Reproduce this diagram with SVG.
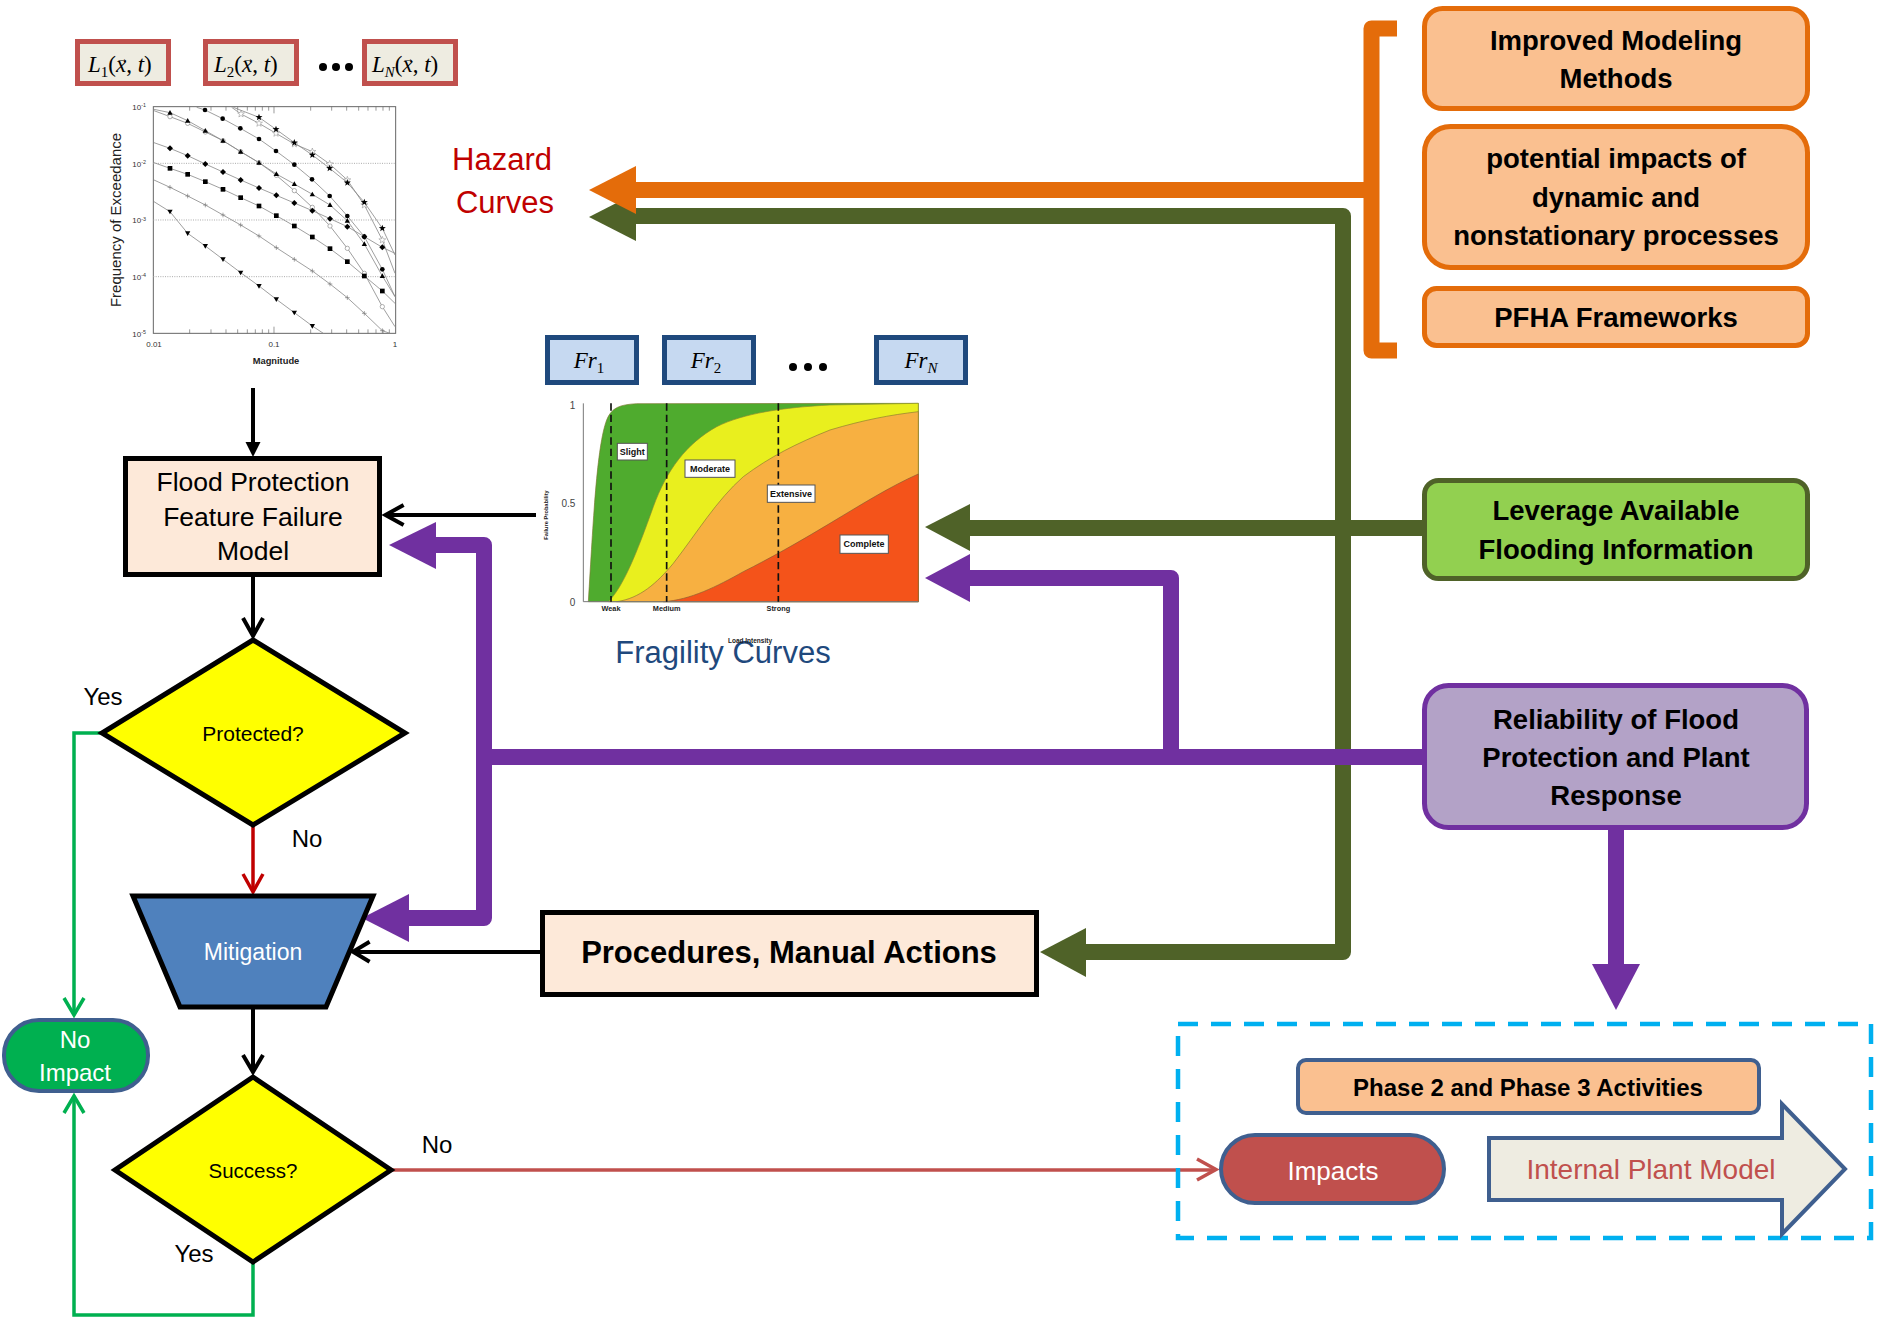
<svg xmlns="http://www.w3.org/2000/svg" width="1882" height="1326" viewBox="0 0 1882 1326">
<defs>
<style>
.t{font-family:"Liberation Sans",Arial,sans-serif;}
.b{font-weight:bold;}
.m{font-family:"Liberation Serif","DejaVu Serif",serif;font-style:italic;}
.n{font-style:normal;}
.vec{font-style:normal;font-size:13px;}
.lbox{fill:#EEECE1;stroke:#C0504D;stroke-width:5;}
.frbox{fill:#C6D9F1;stroke:#1F497D;stroke-width:5;}
.peach{fill:#FDE9D9;stroke:#000;stroke-width:5;}
.dia{fill:#FFFF00;stroke:#000;stroke-width:5;stroke-linejoin:miter;}
.obox{fill:#FAC090;stroke:#E46C0A;stroke-width:5;}
.ser{fill:none;stroke:#8c8c8c;stroke-width:2.5;}
.thin{fill:none;stroke:#000;stroke-width:4;}
.og{fill:none;stroke:#E46C0A;stroke-width:16;stroke-linejoin:round;}
.gr{fill:none;stroke:#4F6228;stroke-width:16;stroke-linejoin:round;}
.pu{fill:none;stroke:#7030A0;stroke-width:16;stroke-linejoin:round;}
.ctr{text-anchor:middle;}
.flab{fill:#fff;stroke:#555;stroke-width:3;}
</style>
<marker id="mStar" markerUnits="userSpaceOnUse" markerWidth="24" markerHeight="24" refX="12" refY="12" viewBox="0 0 24 24"><polygon points="12,1 14.65,8.36 22.46,8.6 16.28,13.39 18.47,20.9 12,16.5 5.53,20.9 7.72,13.39 1.54,8.6 9.35,8.36" fill="#000"/></marker>
<marker id="mStarO" markerUnits="userSpaceOnUse" markerWidth="24" markerHeight="24" refX="12" refY="12" viewBox="0 0 24 24"><polygon points="12,1 14.65,8.36 22.46,8.6 16.28,13.39 18.47,20.9 12,16.5 5.53,20.9 7.72,13.39 1.54,8.6 9.35,8.36" fill="#fff" stroke="#888" stroke-width="1.5"/></marker>
<marker id="mCirc" markerUnits="userSpaceOnUse" markerWidth="24" markerHeight="24" refX="12" refY="12" viewBox="0 0 24 24"><circle cx="12" cy="12" r="7" fill="#000"/></marker>
<marker id="mCircO" markerUnits="userSpaceOnUse" markerWidth="24" markerHeight="24" refX="12" refY="12" viewBox="0 0 24 24"><circle cx="12" cy="12" r="6.5" fill="#fff" stroke="#888" stroke-width="2"/></marker>
<marker id="mTri" markerUnits="userSpaceOnUse" markerWidth="24" markerHeight="24" refX="12" refY="12" viewBox="0 0 24 24"><polygon points="12,4 20,18 4,18" fill="#000"/></marker>
<marker id="mDia" markerUnits="userSpaceOnUse" markerWidth="24" markerHeight="24" refX="12" refY="12" viewBox="0 0 24 24"><polygon points="12,3 21,12 12,21 3,12" fill="#000"/></marker>
<marker id="mSq" markerUnits="userSpaceOnUse" markerWidth="24" markerHeight="24" refX="12" refY="12" viewBox="0 0 24 24"><rect x="5" y="5" width="14" height="14" fill="#000"/></marker>
<marker id="mPlus" markerUnits="userSpaceOnUse" markerWidth="24" markerHeight="24" refX="12" refY="12" viewBox="0 0 24 24"><path d="M12,5V19M5,12H19" stroke="#777" stroke-width="2"/></marker>
<marker id="mTriD" markerUnits="userSpaceOnUse" markerWidth="24" markerHeight="24" refX="12" refY="12" viewBox="0 0 24 24"><polygon points="4,6 20,6 12,20" fill="#000"/></marker>
</defs>
<rect width="1882" height="1326" fill="#fff"/>

<!-- Load function boxes -->
<g id="load-boxes">
<rect class="lbox" x="77.5" y="41.5" width="91" height="42"/>
<text class="m" x="88" y="72" font-size="23">L<tspan class="n" font-size="15" dy="5">1</tspan><tspan class="n" dy="-5">(</tspan>x<tspan class="n">, </tspan>t<tspan class="n">)</tspan><tspan class="vec" x="115.5" y="63">→</tspan></text>
<rect class="lbox" x="205.5" y="41.5" width="91" height="42"/>
<text class="m" x="214" y="72" font-size="23">L<tspan class="n" font-size="15" dy="5">2</tspan><tspan class="n" dy="-5">(</tspan>x<tspan class="n">, </tspan>t<tspan class="n">)</tspan><tspan class="vec" x="241.5" y="63">→</tspan></text>
<circle cx="323" cy="67" r="4"/><circle cx="336" cy="67" r="4"/><circle cx="349" cy="67" r="4"/>
<rect class="lbox" x="364.5" y="41.5" width="91" height="42"/>
<text class="m" x="372" y="72" font-size="23">L<tspan font-size="15" dy="5">N</tspan><tspan class="n" dy="-5">(</tspan>x<tspan class="n">, </tspan>t<tspan class="n">)</tspan><tspan class="vec" x="401.5" y="63">→</tspan></text>
</g>

<!-- Hazard chart -->
<g id="hazard-chart" transform="translate(60,20) scale(0.33333)">
<rect x="280" y="260" width="727" height="680" fill="#fff" stroke="#666" stroke-width="3"/>
<path d="M280,430H1007M280,600H1007M280,770H1007" stroke="#aaa" stroke-width="3" stroke-dasharray="3,4"/>
<path d="M389,940v-12M453,940v-12M498,940v-12M533,940v-12M562,940v-12M586,940v-12M607,940v-12M626,940v-12M642,940v-20M752,940v-12M815,940v-12M860,940v-12M896,940v-12M924,940v-12M948,940v-12M969,940v-12M988,940v-12M389,260v12M453,260v12M498,260v12M533,260v12M562,260v12M586,260v12M607,260v12M626,260v12M642,260v20M752,260v12M815,260v12M860,260v12M896,260v12M924,260v12M948,260v12M969,260v12M988,260v12" stroke="#666" stroke-width="2"/>
<polyline class="ser" marker-mid="url(#mStarO)" points="515,262 543,282 597,310 648,340 703,372 757,395 809,432 862,480 913,555 967,660 1005,760"/>
<polyline class="ser" marker-mid="url(#mStar)" points="520,262 597,292 648,328 703,368 757,405 809,445 862,488 913,547 967,625 1005,705"/>
<polyline class="ser" marker-mid="url(#mCirc)" points="410,262 435,270 488,296 541,325 597,357 648,393 703,434 756,478 809,528 862,588 913,650 967,748 1005,830"/>
<polyline class="ser" marker-mid="url(#mCircO)" points="282,272 330,290 383,310 436,336 489,362 542,395 597,428 649,466 703,512 757,562 810,618 862,685 913,760 967,860 1005,920"/>
<polyline class="ser" marker-mid="url(#mTri)" points="282,268 330,278 383,302 436,332 489,362 542,395 597,428 649,462 703,492 757,523 810,555 862,602 913,672 967,768 1005,830"/>
<polyline class="ser" marker-mid="url(#mDia)" points="282,368 330,385 383,407 436,432 489,456 542,480 597,504 649,526 703,549 757,572 810,596 862,620 913,650 967,682 1005,700"/>
<polyline class="ser" marker-mid="url(#mSq)" points="282,428 330,445 383,463 436,485 489,508 542,533 597,558 649,587 703,618 757,651 810,686 862,725 913,768 967,813 1005,850"/>
<polyline class="ser" marker-mid="url(#mPlus)" points="282,480 330,502 383,528 436,555 489,585 542,615 597,648 649,683 703,718 757,753 810,792 862,833 913,880 967,932 990,940"/>
<polyline class="ser" marker-mid="url(#mTriD)" points="282,545 330,575 383,640 436,678 489,718 542,758 597,798 649,838 703,878 757,918 790,940"/>
<g class="t" font-size="24" fill="#333" text-anchor="end">
<text x="258" y="270">10<tspan font-size="16" dy="-8">-1</tspan></text>
<text x="258" y="440">10<tspan font-size="16" dy="-8">-2</tspan></text>
<text x="258" y="610">10<tspan font-size="16" dy="-8">-3</tspan></text>
<text x="258" y="780">10<tspan font-size="16" dy="-8">-4</tspan></text>
<text x="258" y="950">10<tspan font-size="16" dy="-8">-5</tspan></text>
</g>
<g class="t ctr" font-size="24" fill="#333">
<text x="282" y="980">0.01</text>
<text x="642" y="980">0.1</text>
<text x="1005" y="980">1</text>
</g>
<text class="t b ctr" x="648" y="1033" font-size="28" fill="#222">Magnitude</text>
<text class="t ctr" transform="translate(183,600) rotate(-90)" font-size="45" fill="#222">Frequency of Exceedance</text>
</g>

<!-- Hazard Curves label -->
<g id="hazard-label" class="t ctr" fill="#C00000" font-size="31">
<text x="502" y="170">Hazard</text>
<text x="505" y="213">Curves</text>
</g>

<!-- Fragility boxes -->
<g id="fragility-boxes">
<rect class="frbox" x="547.5" y="337.5" width="89" height="45"/>
<text class="m" x="589" y="368" font-size="23" text-anchor="middle">Fr<tspan class="n" font-size="15" dy="5">1</tspan></text>
<rect class="frbox" x="664.5" y="337.5" width="89" height="45"/>
<text class="m" x="706" y="368" font-size="23" text-anchor="middle">Fr<tspan class="n" font-size="15" dy="5">2</tspan></text>
<circle cx="793" cy="367" r="4"/><circle cx="808" cy="367" r="4"/><circle cx="823" cy="367" r="4"/>
<rect class="frbox" x="876.5" y="337.5" width="89" height="45"/>
<text class="m" x="921" y="368" font-size="23" text-anchor="middle">Fr<tspan font-size="15" dy="5">N</tspan></text>
</g>

<!-- Fragility chart -->
<g id="fragility-chart" transform="translate(530,320) scale(0.33333)">
<rect x="160" y="250" width="1005" height="595" fill="#fff"/>
<path d="M175,845 C190,600 200,380 230,300 C245,262 270,254 320,251 L1165,250 L1165,845 Z" fill="#4FAB2E" stroke="#7a7a30" stroke-width="2"/>
<path d="M235,845 C280,800 320,700 370,560 C410,450 470,370 560,320 C640,280 760,262 900,255 L1165,250 L1165,845 Z" fill="#E9EF1E" stroke="#8a8a30" stroke-width="2"/>
<path d="M260,845 C330,835 380,790 430,730 C500,640 560,540 640,470 C720,410 800,370 900,330 C1000,300 1080,285 1165,275 L1165,845 Z" fill="#F7B041" stroke="#8a7a30" stroke-width="2"/>
<path d="M400,845 C480,840 560,800 640,755 C720,715 800,670 900,610 C1000,550 1080,500 1165,462 L1165,845 Z" fill="#F4531A" stroke="#8a5a30" stroke-width="2"/>
<path d="M160,250V845H1165" fill="none" stroke="#777" stroke-width="3"/>
<path d="M243,250V845M410,250V845M745,250V845" stroke="#111" stroke-width="5" stroke-dasharray="22,12"/>
<g class="t" font-size="30" fill="#444" text-anchor="end">
<text x="136" y="268">1</text>
<text x="136" y="562">0.5</text>
<text x="136" y="858">0</text>
</g>
<text class="t b ctr" transform="translate(55,585) rotate(-90)" font-size="17" fill="#222">Failure Probability</text>
<g class="t b ctr" font-size="22" fill="#222">
<text x="243" y="872">Weak</text>
<text x="410" y="872">Medium</text>
<text x="745" y="872">Strong</text>
</g>
<rect class="flab" x="262" y="370" width="90" height="50"/>
<rect class="flab" x="465" y="420" width="150" height="52"/>
<rect class="flab" x="712" y="495" width="143" height="52"/>
<rect class="flab" x="930" y="645" width="145" height="55"/>
<g class="t b ctr" font-size="27" fill="#111">
<text x="307" y="405">Slight</text>
<text x="540" y="456">Moderate</text>
<text x="783" y="531">Extensive</text>
<text x="1002" y="682">Complete</text>
</g>
</g>
<g id="fragility-label">
<text class="t ctr" x="723" y="663" font-size="31" fill="#1F497D">Fragility Curves</text>
<text class="t b ctr" x="750" y="643" font-size="6.5" fill="#222">Load Intensity</text>
</g>

<!-- Connectors -->
<g id="connectors">
<path class="gr" d="M636,216 H1343 V952 H1086"/>
<polygon points="589,217 636,193 636,241" fill="#4F6228"/>
<polygon points="1040,952 1086,928 1086,977" fill="#4F6228"/>
<path class="gr" d="M1422,528 H970"/>
<polygon points="925,527 970,504 970,551" fill="#4F6228"/>
<path class="og" d="M1397,28.5 H1371.5 V350.5 H1397" stroke-width="15"/>
<path class="og" d="M1371,190 H636"/>
<polygon points="589,190 636,166 636,214" fill="#E46C0A"/>
<path class="pu" d="M1422,757 H484"/>
<path class="pu" d="M436,545 H484 V918 H409"/>
<polygon points="389,545 436,522 436,569" fill="#7030A0"/>
<polygon points="362,918 409,894 409,942" fill="#7030A0"/>
<path class="pu" d="M1171,757 V578 H970"/>
<polygon points="925,578 970,554 970,602" fill="#7030A0"/>
<path class="pu" d="M1616,830 V965" stroke-width="14"/>
<polygon points="1592,964 1640,964 1616,1010" fill="#7030A0"/>
<path class="thin" d="M253,388 V445"/>
<polygon points="245.5,442 260.5,442 253,457"/>
<path class="thin" d="M536,515 H386"/>
<polyline class="thin" points="403.6,505 385.5,515 403.6,525"/>
<path class="thin" d="M253,576 V636"/>
<polyline class="thin" points="243,618 253,636 263,618"/>
<path d="M253,825 V892" stroke="#C00000" stroke-width="3.5" fill="none"/>
<polyline points="243,874 253,892 263,874" fill="none" stroke="#C00000" stroke-width="3.5"/>
<path class="thin" d="M540,952 H354" stroke-width="3.5"/>
<polyline class="thin" points="369.6,941.7 353,951.7 369.6,961.7" stroke-width="3.5"/>
<path class="thin" d="M253,1007 V1072"/>
<polyline class="thin" points="243,1055 253,1072 263,1055"/>
<polyline points="102,733 74,733 74,1015" fill="none" stroke="#00B050" stroke-width="3.5"/>
<polyline points="64,998 74,1015 84,998" fill="none" stroke="#00B050" stroke-width="3.5"/>
<polyline points="253,1262 253,1315 74,1315 74,1096" fill="none" stroke="#00B050" stroke-width="3.5"/>
<polyline points="64,1113 74,1096 84,1113" fill="none" stroke="#00B050" stroke-width="3.5"/>
<path d="M391,1170 H1215" stroke="#C0504D" stroke-width="3.5"/>
<polyline points="1197,1159 1216,1169.5 1197,1180" fill="none" stroke="#C0504D" stroke-width="3.5"/>
</g>

<!-- Flowchart nodes -->
<g id="fpf-model">
<rect class="peach" x="125.5" y="458.5" width="254" height="116"/>
<g class="t ctr" font-size="26.5" fill="#000">
<text x="253" y="491">Flood Protection</text>
<text x="253" y="526">Feature Failure</text>
<text x="253" y="560">Model</text>
</g>
</g>
<g id="protected">
<polygon class="dia" points="253,640 405,733 253,825 102,733"/>
<text class="t ctr" x="253" y="741" font-size="21">Protected?</text>
<text class="t ctr" x="103" y="705" font-size="24">Yes</text>
<text class="t ctr" x="307" y="847" font-size="24">No</text>
</g>
<g id="mitigation">
<polygon points="133,896 373,896 326,1007 180,1007" fill="#4F81BD" stroke="#000" stroke-width="5"/>
<text class="t ctr" x="253" y="960" font-size="23" fill="#fff">Mitigation</text>
</g>
<g id="success">
<polygon class="dia" points="253,1077 391,1170 253,1262 115,1170"/>
<text class="t ctr" x="253" y="1178" font-size="20.5">Success?</text>
<text class="t ctr" x="437" y="1153" font-size="24">No</text>
<text class="t ctr" x="194" y="1262" font-size="24">Yes</text>
</g>
<g id="no-impact">
<rect x="4" y="1020" width="144" height="71" rx="35" fill="#00B050" stroke="#3F5F8F" stroke-width="4"/>
<g class="t ctr" font-size="24" fill="#fff">
<text x="75" y="1048">No</text>
<text x="75" y="1081">Impact</text>
</g>
</g>
<g id="procedures">
<rect class="peach" x="542.5" y="912.5" width="494" height="82"/>
<text class="t b ctr" x="789" y="963" font-size="31">Procedures, Manual Actions</text>
</g>

<g id="improved-modeling">
<rect class="obox" x="1424.5" y="8.5" width="383" height="100" rx="18"/>
<g class="t b ctr" font-size="27.5"><text x="1616" y="50">Improved Modeling</text><text x="1616" y="88">Methods</text></g>
</g>
<g id="potential-impacts">
<rect class="obox" x="1424.5" y="126.5" width="383" height="141" rx="26"/>
<g class="t b ctr" font-size="27.5"><text x="1616" y="168">potential impacts of</text><text x="1616" y="207">dynamic and</text><text x="1616" y="245">nonstationary processes</text></g>
</g>
<g id="pfha">
<rect class="obox" x="1424.5" y="288.5" width="383" height="57" rx="12"/>
<text class="t b ctr" x="1616" y="327" font-size="27.5">PFHA Frameworks</text>
</g>
<g id="leverage">
<rect x="1424.5" y="480.5" width="383" height="98" rx="14" fill="#92D050" stroke="#4F6228" stroke-width="5"/>
<g class="t b ctr" font-size="27.5"><text x="1616" y="520">Leverage Available</text><text x="1616" y="559">Flooding Information</text></g>
</g>
<g id="reliability">
<rect x="1424.5" y="685.5" width="382" height="142" rx="24" fill="#B3A2C7" stroke="#7030A0" stroke-width="5"/>
<g class="t b ctr" font-size="27.5"><text x="1616" y="729">Reliability of Flood</text><text x="1616" y="767">Protection and Plant</text><text x="1616" y="805">Response</text></g>
</g>

<g id="phase-group">
<rect x="1178" y="1024" width="693" height="214" fill="none" stroke="#00B0F0" stroke-width="4.5" stroke-dasharray="20,13"/>
</g>
<g id="phase-activities">
<rect x="1298" y="1060" width="461" height="53" rx="8" fill="#FAC090" stroke="#3F5F8F" stroke-width="4"/>
<text class="t b ctr" x="1528" y="1096" font-size="24">Phase 2 and Phase 3 Activities</text>
</g>
<g id="impacts">
<rect x="1221" y="1135" width="223" height="68" rx="34" fill="#C0504D" stroke="#3F5F8F" stroke-width="4"/>
<text class="t ctr" x="1333" y="1180" font-size="26" fill="#fff">Impacts</text>
</g>
<g id="internal-plant-model">
<polygon points="1489,1138 1782,1138 1782,1104 1845,1169 1782,1234 1782,1200 1489,1200" fill="#EEECE1" stroke="#3F5F8F" stroke-width="4"/>
<text class="t ctr" x="1651" y="1179" font-size="28" fill="#C0504D">Internal Plant Model</text>
</g>
</svg>
